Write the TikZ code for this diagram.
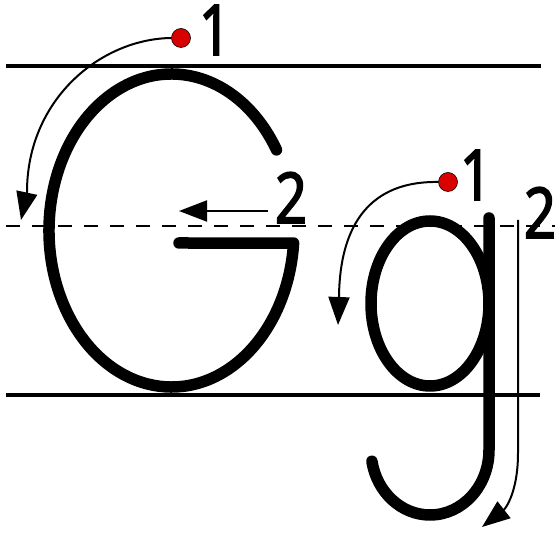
\documentclass[tikz,border=0pt]{standalone}
\usepackage{fontspec}
\setmainfont{Open Sans}
\newfontfamily\numfont{Open Sans}[FakeBold=2.6,FakeStretch=0.8]
\usetikzlibrary{arrows.meta}
\definecolor{dotred}{HTML}{D90000}
\tikzset{
  guide/.style={line width=4pt},
  midguide/.style={line width=2pt, dash pattern=on 14pt off 12pt},
  letter/.style={line width=11.5pt, line cap=round, line join=round},
  hint/.style={line width=2pt, -{Triangle[length=28pt,width=21pt]}},
  startdot/.style={circle, fill=dotred, draw=black, line width=0.6pt, minimum size=19pt, inner sep=0pt},
  num/.style={font=\numfont\fontsize{70}{70}\selectfont, inner sep=0pt, anchor=base}
}
\begin{document}
\begin{tikzpicture}[x=1pt,y=1pt]
\useasboundingbox (0,0) rectangle (555,533);
\clip (0,0) rectangle (555,533);
% guide lines
\coordinate (tl) at (6,467); \coordinate (tr) at (541,467);
\coordinate (ml) at (6,307); \coordinate (mr) at (555,307);
\coordinate (bl) at (6,138); \coordinate (br) at (540,138);
\draw[guide] (tl) -- (tr);
\draw[guide] (bl) -- (br);
\draw[midguide] (ml) -- (mr);
% letter G
\coordinate (Gc) at (171.5,302.5);
\coordinate (Gbar) at (179,290);
\draw[letter] (Gc) ++(31:122.5 and 156.5)
  arc[start angle=31, end angle=355.4, x radius=122.5, y radius=156.5] -- (Gbar);
% letter g
\coordinate (gc) at (430,229.5);
\draw[letter] (gc) ellipse[x radius=59, y radius=82.5];
\coordinate (gtop) at (489,315);
\coordinate (gturn) at (489,83);
\draw[letter] (gtop) -- (gturn)
  arc[start angle=0, end angle=-170, x radius=59, y radius=65];
% G stroke 1
\node[startdot] (d1) at (181,495) {};
\coordinate (a1end) at (21,313);
\draw[hint] (d1.west) .. controls (100,494) and (27,433) .. (27,341) -- (a1end);
\node[num] (n1) at (215,478) {1};
% G stroke 2
\coordinate (a2s) at (268,322);
\coordinate (a2e) at (179,322);
\draw[hint] (a2s) -- (a2e);
\node[num] (n2) at (291,310) {2};
% g stroke 1
\node[startdot] (d2) at (448,351) {};
\coordinate (a3end) at (338,208);
\draw[hint] (d2.west) .. controls (380,352) and (340,320) .. (339,236) -- (a3end);
\node[num] (n3) at (476,333) {1};
% g stroke 2
\coordinate (a4s) at (518,313);
\coordinate (a4m) at (518,80);
\coordinate (a4end) at (482,6);
\draw[hint] (a4s) -- (a4m) .. controls (518,40) and (505,24) .. (a4end);
\node[num] (n4) at (540,295) {2};
\end{tikzpicture}
\end{document}
